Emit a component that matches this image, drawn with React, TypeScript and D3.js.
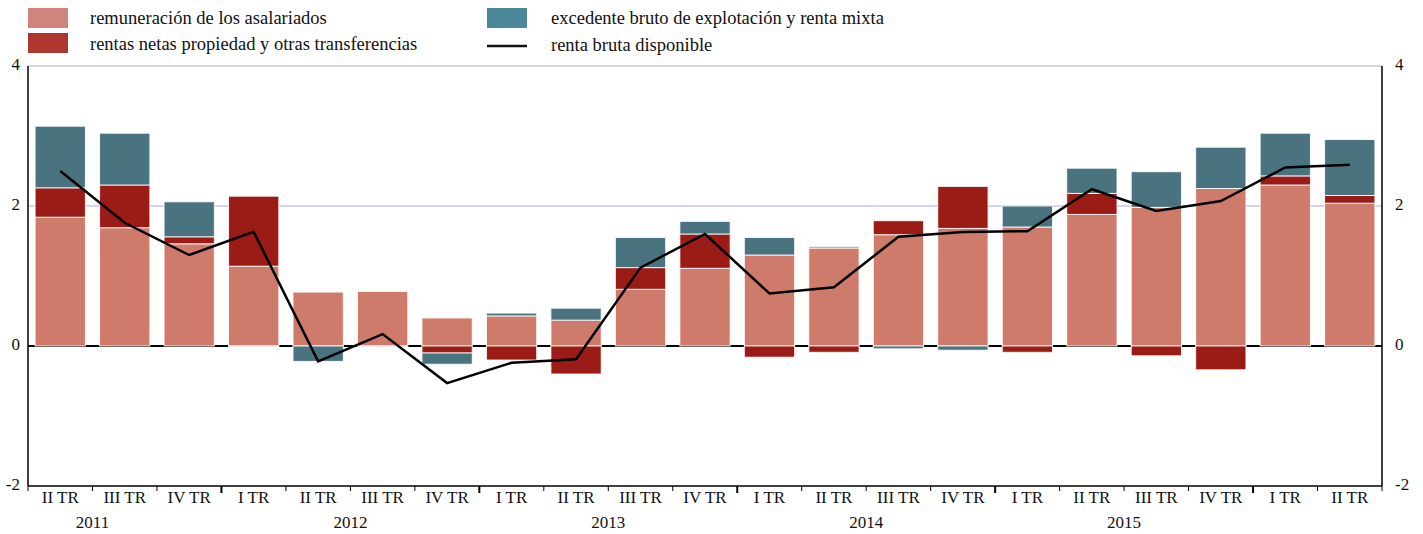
import React from "react";
import * as d3 from "d3";

const quarters = ["II TR","III TR","IV TR","I TR","II TR","III TR","IV TR","I TR","II TR","III TR","IV TR","I TR","II TR","III TR","IV TR","I TR","II TR","III TR","IV TR","I TR","II TR"];
const years = ["2011","2012","2013","2014","2015"];
const remuneracion = [1.84,1.69,1.46,1.14,0.77,0.78,0.40,0.43,0.37,0.81,1.11,1.30,1.40,1.59,1.68,1.70,1.88,1.98,2.25,2.30,2.04];
const rentasNetas = [0.42,0.61,0.10,1.00,0,0,-0.10,-0.20,-0.40,0.31,0.49,-0.16,-0.09,0.20,0.60,-0.09,0.30,-0.14,-0.34,0.13,0.11];
const excedente = [0.88,0.74,0.50,-0.01,-0.22,-0.01,-0.16,0.04,0.17,0.43,0.18,0.25,0.02,-0.04,-0.06,0.30,0.36,0.51,0.59,0.61,0.80];
const rentaBruta = [2.50,1.76,1.30,1.63,-0.22,0.17,-0.53,-0.24,-0.19,1.12,1.60,0.75,0.84,1.56,1.63,1.64,2.24,1.93,2.07,2.55,2.59];
const yTicks = [-2,0,2,4];

const W = 1423, H = 534;
const M = { left: 28, right: 1382, top: 66, bottom: 486 };
const FONT = "'Liberation Serif', 'Times New Roman', serif";

const colors = {
  rem: "#CF7B6B",
  rentas: "#9B1C17",
  exc: "#4A7380",
};
const legendColors = {
  rem: "#CF857D",
  rentas: "#AD372E",
  exc: "#4C8899",
};

export default function App() {
  const idx = quarters.map((_, i) => i);
  const x = d3.scaleBand<number>().domain(idx).range([M.left, M.right]).paddingInner(0.22).paddingOuter(0.11);
  const step = (M.right - M.left) / quarters.length;
  const y = d3.scaleLinear().domain([-2, 4]).range([M.bottom, M.top]);

  const rows = idx.map(i => ({ rem: remuneracion[i], rentas: rentasNetas[i], exc: excedente[i] }));
  const keys = ["rem", "rentas", "exc"] as const;
  const stack = d3.stack<any>().keys(keys as any).offset(d3.stackOffsetDiverging);
  const series = stack(rows);

  const line = d3.line<number>().x((_, i) => x(i)! + x.bandwidth() / 2).y(d => y(d));

  const boundaryX = (k: number) => M.left + step * k;

  return (
    <svg width={W} height={H} style={{ position: "absolute", left: 0, top: 0 }} fontFamily={FONT}>
      {/* legend */}
      <g fontSize={18.5} fill="#111">
        <rect x={28} y={8} width={40} height={20} fill={legendColors.rem} />
        <text x={90} y={24}>remuneración de los asalariados</text>
        <rect x={28} y={33} width={40} height={20} fill={legendColors.rentas} />
        <text x={90} y={50}>rentas netas propiedad y otras transferencias</text>
        <rect x={487} y={8} width={40} height={20} fill={legendColors.exc} />
        <text x={551} y={24}>excedente bruto de explotación y renta mixta</text>
        <line x1={487} x2={527} y1={46} y2={46} stroke="#111" strokeWidth={2.5} />
        <text x={551} y={51}>renta bruta disponible</text>
      </g>

      {/* grid */}
      {yTicks.filter(t => t > 0).map(t => (
        <line key={t} x1={M.left} x2={M.right} y1={y(t)} y2={y(t)} stroke="#A9A9DD" strokeWidth={1} />
      ))}
      <line x1={M.left} x2={M.right} y1={y(0)} y2={y(0)} stroke="#000" strokeWidth={2} />

      {/* bars */}
      {series.map(s => (
        <g key={s.key} fill={(colors as any)[s.key]}>
          {s.map((d, i) => (
            Math.abs(d[1] - d[0]) > 0.0001 ? (
              <rect key={i} x={x(i)} width={x.bandwidth()} y={y(Math.max(d[0], d[1]))}
                height={Math.abs(y(d[0]) - y(d[1]))} stroke="#fff" strokeWidth={1} strokeOpacity={0.85} />
            ) : null
          ))}
        </g>
      ))}

      {/* line */}
      <path d={line(rentaBruta) || ""} fill="none" stroke="#000" strokeWidth={2.5} strokeLinejoin="miter" />

      {/* axes */}
      <line x1={M.left} x2={M.left} y1={M.top} y2={M.bottom} stroke="#000" strokeWidth={1.5} />
      <line x1={M.right} x2={M.right} y1={M.top} y2={M.bottom} stroke="#000" strokeWidth={1.5} />
      <line x1={M.left} x2={M.right} y1={M.bottom} y2={M.bottom} stroke="#000" strokeWidth={1.5} />

      <g fontSize={17} fill="#111">
        {yTicks.map(t => (
          <text key={"l" + t} x={20} y={y(t)} textAnchor="end" dominantBaseline="middle">{t}</text>
        ))}
        {yTicks.map(t => (
          <text key={"r" + t} x={1395} y={y(t)} textAnchor="start" dominantBaseline="middle">{t}</text>
        ))}
      </g>

      {/* x ticks */}
      {d3.range(0, quarters.length + 1).map(k => {
        const isYear = (k + 1) % 4 === 0;
        return (
          <line key={k} x1={boundaryX(k)} x2={boundaryX(k)} y1={M.bottom} y2={M.bottom + (isYear ? 7 : 5)}
            stroke="#000" strokeWidth={isYear ? 2 : 1} />
        );
      })}

      <g fontSize={17} fill="#111" textAnchor="middle">
        {quarters.map((q, i) => (
          <text key={i} x={x(i)! + x.bandwidth() / 2} y={503}>{q}</text>
        ))}
        {years.map((yr, j) => (
          <text key={yr} x={boundaryX(-1 + 4 * j + 2)} y={528}>{yr}</text>
        ))}
      </g>
    </svg>
  );
}
